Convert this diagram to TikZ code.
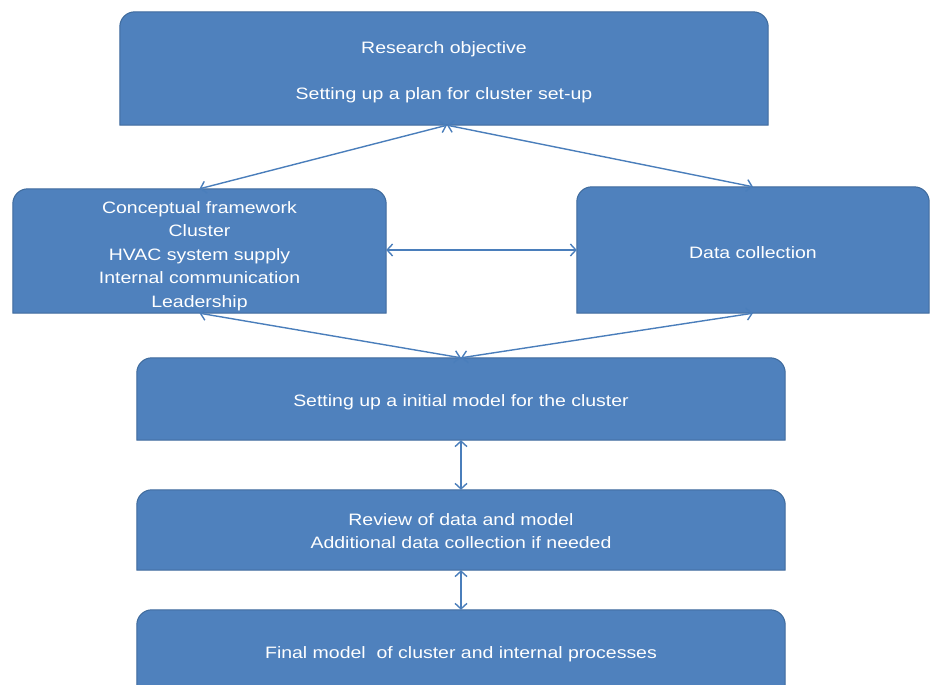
\documentclass[tikz,border=0pt]{standalone}
\usepackage{fontspec}
\setmainfont{Liberation Sans}[FakeStretch=1.18]
\usetikzlibrary{arrows.meta,backgrounds}

\definecolor{boxfill}{HTML}{4F81BD}
\definecolor{boxline}{HTML}{3E6A9C}
\definecolor{linkcol}{HTML}{4A7EBB}

\tikzset{
  stage/.style={rectangle, inner sep=0pt},
  caption/.style={inner sep=0pt, text=white, align=center,
    font=\fontsize{16.5}{23.5}\selectfont},
  link/.style={draw=linkcol, line width=1.4pt,
    {Straight Barb[length=5.5pt,width=12pt]}-{Straight Barb[length=5.5pt,width=12pt]}},
  stageshape/.style={fill=boxfill, draw=boxline, line width=1pt}
}

\begin{document}
\begin{tikzpicture}[x=1pt,y=-1pt]
  \useasboundingbox (0,0) rectangle (930,685);
  \clip (0,0) rectangle (930,685);

  % stage boxes
  \node[stage, minimum width=648, minimum height=113] (b1) at (444,68.5) {};
  \node[stage, minimum width=373, minimum height=124] (b2) at (199.5,251) {};
  \node[stage, minimum width=352, minimum height=126] (b3) at (753,250) {};
  \node[stage, minimum width=648, minimum height=82]  (b4) at (461,399) {};
  \node[stage, minimum width=648, minimum height=80]  (b5) at (461,530) {};
  \node[stage, minimum width=648, minimum height=84]  (b6) at (461,652) {};

  % box outlines: rounded at the top, square at the bottom
  \begin{scope}[on background layer]
    \foreach \b in {b1,b2,b3,b4,b5,b6}{
      \path[stageshape] (\b.south west)
        -- ([yshift=-15pt]\b.north west)
        arc[start angle=180, end angle=90, radius=15pt]
        -- ([xshift=-15pt]\b.north east)
        arc[start angle=90, end angle=0, radius=15pt]
        -- (\b.south east) -- cycle;
    }
  \end{scope}

  % box texts
  \node[caption] (t1) at ([yshift=-4pt]b1.center)
    {Research objective\\[22.5pt]Setting up a plan for cluster set-up};
  \node[caption] (t2) at ([yshift=-5pt]b2.center)
    {Conceptual framework\\Cluster\\HVAC system supply\\Internal communication\\Leadership};
  \node[caption] (t3) at ([yshift=-3pt]b3.center) {Data collection};
  \node[caption] (t4) at ([yshift=-3pt]b4.center)
    {Setting up a initial model for the cluster};
  \node[caption] (t5) at ([yshift=-1pt]b5.center)
    {Review of data and model\\Additional data collection if needed};
  \node[caption] (t6) at ([yshift=-2pt]b6.center)
    {Final model\ \ of cluster and internal processes};

  % connectors
  \coordinate (top) at ([xshift=3pt]b1.south);
  \draw[link] (top) -- (b2.north);
  \draw[link] (top) -- (b3.north);
  \draw[link] ([yshift=1pt]b2.east) -- (b3.west);
  \draw[link] (b2.south) -- (b4.north);
  \draw[link] (b3.south) -- (b4.north);
  \draw[link] (b4.south) -- (b5.north);
  \draw[link] (b5.south) -- (b6.north);
\end{tikzpicture}
\end{document}
